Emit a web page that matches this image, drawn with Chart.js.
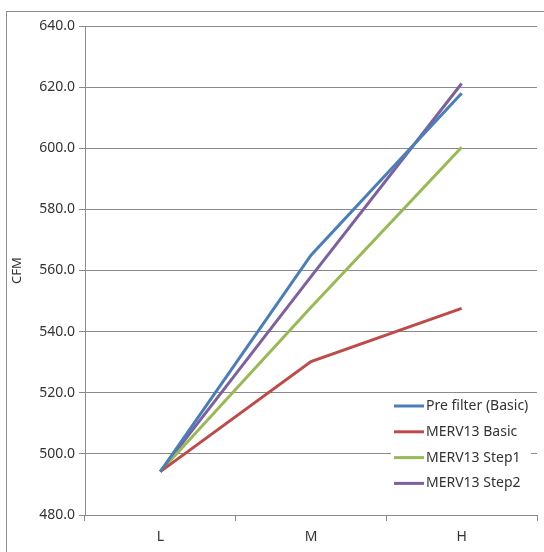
<!DOCTYPE html>
<html>
<head>
<meta charset="utf-8">
<script src="https://cdn.jsdelivr.net/npm/chart.js@4/dist/chart.umd.min.js"></script>
<style>
  html, body { margin: 0; padding: 0; background: #fff; overflow: hidden; }
  #wrap { position: relative; width: 544px; height: 552px; }
</style>
</head>
<body>
<div id="wrap"><canvas id="cfmChart" width="544" height="552"></canvas></div>
<script>
// Data
const speeds = ["L", "M", "H"];
const seriesNames = ["Pre filter (Basic)", "MERV13 Basic", "MERV13 Step1", "MERV13 Step2"];
const preFilterBasic = [494.2, 565.0, 618.0];
const merv13Basic = [494.2, 530.2, 547.6];
const merv13Step1 = [494.2, 548.0, 600.3];
const merv13Step2 = [494.2, 558.0, 621.2];
const yTicks = [480, 500, 520, 540, 560, 580, 600, 620, 640];

const lineColors = ["#4a7ebb", "#be4b48", "#98b954", "#7d60a0"];
const gridGray = "#8a8a8a";
const textColor = "#333333";
const fontFamily = "'Noto Sans', 'DejaVu Sans', sans-serif";

// outer frame (Excel chart border) and an in-plot legend box
const framePlugin = {
  id: "frame",
  beforeDraw(chart) {
    const ctx = chart.ctx;
    ctx.save();
    ctx.strokeStyle = "#8c8c8c";
    ctx.lineWidth = 1;
    ctx.strokeRect(6.5, 11.5, 700, 700);
    ctx.restore();
  },
  afterDraw(chart) {
    const ctx = chart.ctx;
    const x0 = 391, y0 = 394, w = 140, h = 104;
    ctx.save();
    ctx.fillStyle = "#fff";
    ctx.fillRect(x0, y0, w, h);
    ctx.font = "14px " + fontFamily;
    ctx.textBaseline = "middle";
    chart.data.datasets.forEach((ds, i) => {
      const y = 406 + i * 25.8;
      ctx.strokeStyle = ds.borderColor;
      ctx.lineWidth = 3;
      ctx.beginPath();
      ctx.moveTo(394, y);
      ctx.lineTo(424, y);
      ctx.stroke();
      ctx.fillStyle = textColor;
      ctx.fillText(ds.label, 426, y);
    });
    ctx.restore();
  }
};

const allSeries = [preFilterBasic, merv13Basic, merv13Step1, merv13Step2];

new Chart(document.getElementById("cfmChart").getContext("2d"), {
  type: "line",
  data: {
    labels: speeds,
    datasets: allSeries.map((vals, i) => ({
      label: seriesNames[i],
      data: vals,
      borderColor: lineColors[i],
      backgroundColor: lineColors[i],
      borderWidth: 3,
      pointRadius: 0,
      tension: 0,
    })),
  },
  options: {
    responsive: false,
    animation: false,
    layout: { padding: { top: 26, right: 7, bottom: 0, left: 0 } },
    plugins: {
      legend: { display: false },
      tooltip: { enabled: false },
    },
    scales: {
      x: {
        offset: true,
        grid: {
          offset: true,
          drawOnChartArea: false,
          drawTicks: true,
          tickLength: 6,
          color: gridGray,
        },
        border: { color: gridGray },
        ticks: {
          padding: 8,
          color: textColor,
          font: { family: fontFamily, size: 14 },
        },
        afterFit: (scale) => { scale.height = 37; },
      },
      y: {
        min: 480,
        max: 640,
        afterBuildTicks: (scale) => { scale.ticks = yTicks.map((v) => ({ value: v })); },
        grid: { color: gridGray, tickLength: 6 },
        border: { color: gridGray },
        ticks: {
          padding: 4,
          color: textColor,
          font: { family: fontFamily, size: 14 },
          callback: (v) => Number(v).toFixed(1),
        },
        title: {
          display: true,
          text: "CFM",
          color: textColor,
          font: { family: fontFamily, size: 13 },
          padding: { top: 9, bottom: 0 },
        },
        afterFit: (scale) => { scale.width = 85; },
      },
    },
  },
  plugins: [framePlugin],
});
</script>
</body>
</html>
